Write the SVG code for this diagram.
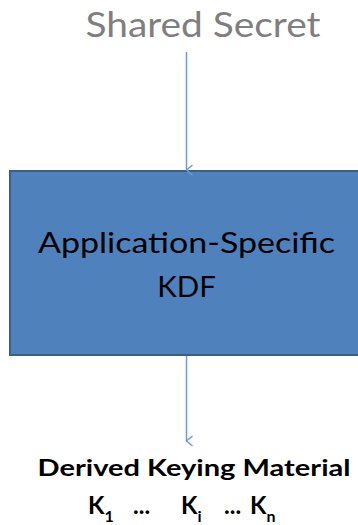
<svg xmlns="http://www.w3.org/2000/svg" width="358" height="525" viewBox="0 0 358 525">
<style>
text{font-family:Lato,"Open Sans","Liberation Sans",sans-serif}
.c{stroke:#6f9bd1;stroke-width:1.5;fill:none}
</style>
<defs>
<marker id="ah" viewBox="0 0 12 10" refX="6" refY="9" markerWidth="12" markerHeight="10" markerUnits="userSpaceOnUse" orient="auto-start-reverse">
<path d="M1,3 L6,9 L11,3" fill="none" stroke="#6f9bd1" stroke-width="1.5"/>
</marker>
</defs>
<g id="input">
<text x="203" y="37" font-size="35" fill="#7f7f7f" text-anchor="middle" textLength="235" lengthAdjust="spacingAndGlyphs">Shared Secret</text>
</g>
<g id="kdf">
<rect x="10" y="171" width="352" height="184" fill="#4f81bd" stroke="#3a5f8b" stroke-width="2"/>
<text x="186.5" y="253" font-size="29.5" fill="#000" text-anchor="middle" textLength="297" lengthAdjust="spacingAndGlyphs">Application-Specific</text>
<text x="186.5" y="297" font-size="29.5" fill="#000" text-anchor="middle">KDF</text>
</g>
<g id="output">
<text x="194" y="476" font-size="22" font-weight="bold" fill="#000" text-anchor="middle" textLength="313" lengthAdjust="spacingAndGlyphs">Derived Keying Material</text>
<text y="514" font-size="24" font-weight="bold" fill="#000"><tspan x="88">K</tspan><tspan font-size="16" dy="8">1</tspan><tspan x="133" dy="-8">...</tspan><tspan x="181">K</tspan><tspan font-size="16" dy="8">i</tspan><tspan x="224" dy="-8">...</tspan><tspan x="250">K</tspan><tspan font-size="16" dy="8">n</tspan></text>
</g>
<g id="connectors">
<line class="c" x1="186.5" y1="52" x2="186.5" y2="170" marker-end="url(#ah)"/>
<line class="c" x1="186.5" y1="356" x2="186.5" y2="441" marker-end="url(#ah)"/>
</g>
</svg>
